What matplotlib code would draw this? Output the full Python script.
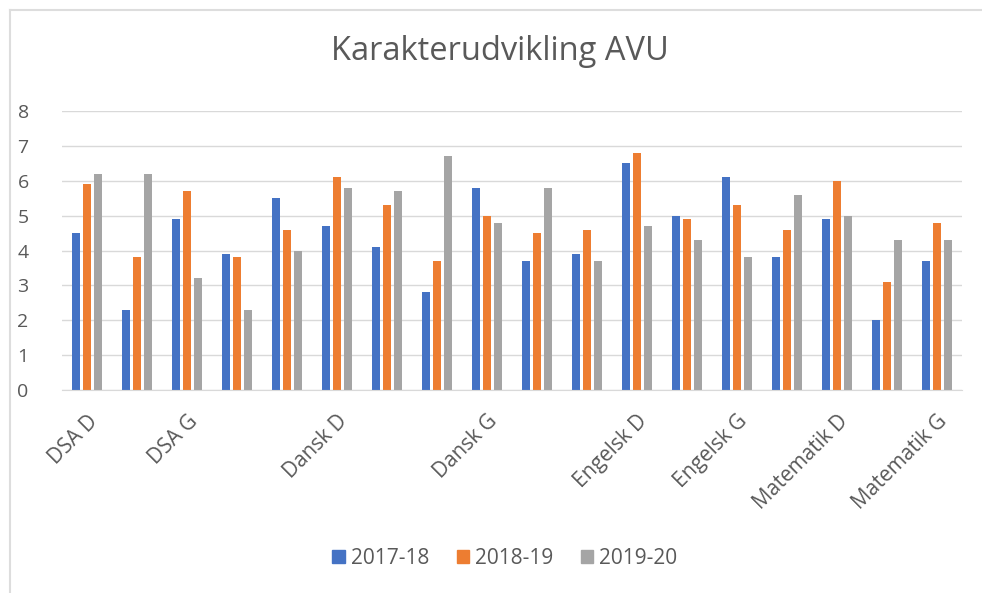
import matplotlib
matplotlib.use("Agg")
import matplotlib.pyplot as plt
import numpy as np
from matplotlib.patches import Rectangle
from matplotlib.lines import Line2D

plt.rcParams['font.family'] = ['Open Sans', 'DejaVu Sans']

title = "Karakterudvikling AVU"
categories = ["DSA D", "", "DSA G", "", "", "Dansk D", "", "", "Dansk G", "", "",
              "Engelsk D", "", "Engelsk G", "", "Matematik D", "", "Matematik G"]
series_names = ["2017-18", "2018-19", "2019-20"]
s2017 = [4.5, 2.3, 4.9, 3.9, 5.5, 4.7, 4.1, 2.8, 5.8, 3.7, 3.9, 6.5, 5.0, 6.1, 3.8, 4.9, 2.0, 3.7]
s2018 = [5.9, 3.8, 5.7, 3.8, 4.6, 6.1, 5.3, 3.7, 5.0, 4.5, 4.6, 6.8, 4.9, 5.3, 4.6, 6.0, 3.1, 4.8]
s2019 = [6.2, 6.2, 3.2, 2.3, 4.0, 5.8, 5.7, 6.7, 4.8, 5.8, 3.7, 4.7, 4.3, 3.8, 5.6, 5.0, 4.3, 4.3]
colors = ["#4472C4", "#ED7D31", "#A5A5A5"]
yticks = [0, 1, 2, 3, 4, 5, 6, 7, 8]

W, H = 982, 593
fig = plt.figure(figsize=(W / 100, H / 100), dpi=100)
fig.patch.set_facecolor("white")

# chart border
fig.add_artist(Line2D([9.5 / W, 9.5 / W], [0, 1 - 10 / H], transform=fig.transFigure,
                      color="#DDDDDD", lw=1.5))
fig.add_artist(Line2D([9.5 / W, 1], [1 - 10 / H, 1 - 10 / H], transform=fig.transFigure,
                      color="#DDDDDD", lw=1.5))

left, right, top, bottom = 62, 962, 111, 390
ax = fig.add_axes([left / W, 1 - bottom / H, (right - left) / W, (bottom - top) / H])

x = np.arange(len(categories))
step = 0.22
bw = 0.175
for i, (vals, name) in enumerate(zip([s2017, s2018, s2019], series_names)):
    ax.bar(x + (i - 1) * step, vals, width=bw, color=colors[i], label=name, zorder=3)

ax.set_xlim(-0.5, len(categories) - 0.5)
ax.set_ylim(0, 8)
ax.set_yticks(yticks)
ax.set_yticklabels([str(t) for t in yticks], fontsize=14, color="#595959")
ax.set_xticks(x)
ax.set_xticklabels(categories, rotation=45, ha="right", rotation_mode="anchor",
                   fontsize=15, color="#595959")
ax.tick_params(axis="both", length=0)
ax.tick_params(axis="y", pad=24)
ax.tick_params(axis="x", pad=15)
ax.grid(axis="y", color="#D9D9D9", lw=1, zorder=0)
for s in ["top", "right", "left"]:
    ax.spines[s].set_visible(False)
ax.spines["bottom"].set_color("#D9D9D9")
ax.spines["bottom"].set_zorder(4)

fig.text(500 / W, 1 - 52 / H, title, ha="center", va="center", fontsize=23.5, color="#595959")

handles = [Rectangle((0, 0), 1, 1, color=c) for c in colors]
fig.legend(handles, series_names, loc="center", bbox_to_anchor=(505 / W, 1 - 558 / H),
           ncol=3, frameon=False, fontsize=15, handlelength=0.6, handleheight=0.6,
           handletextpad=0.3, columnspacing=1.3, labelcolor="#595959")

fig.savefig("out.png", dpi=100, facecolor="white")
